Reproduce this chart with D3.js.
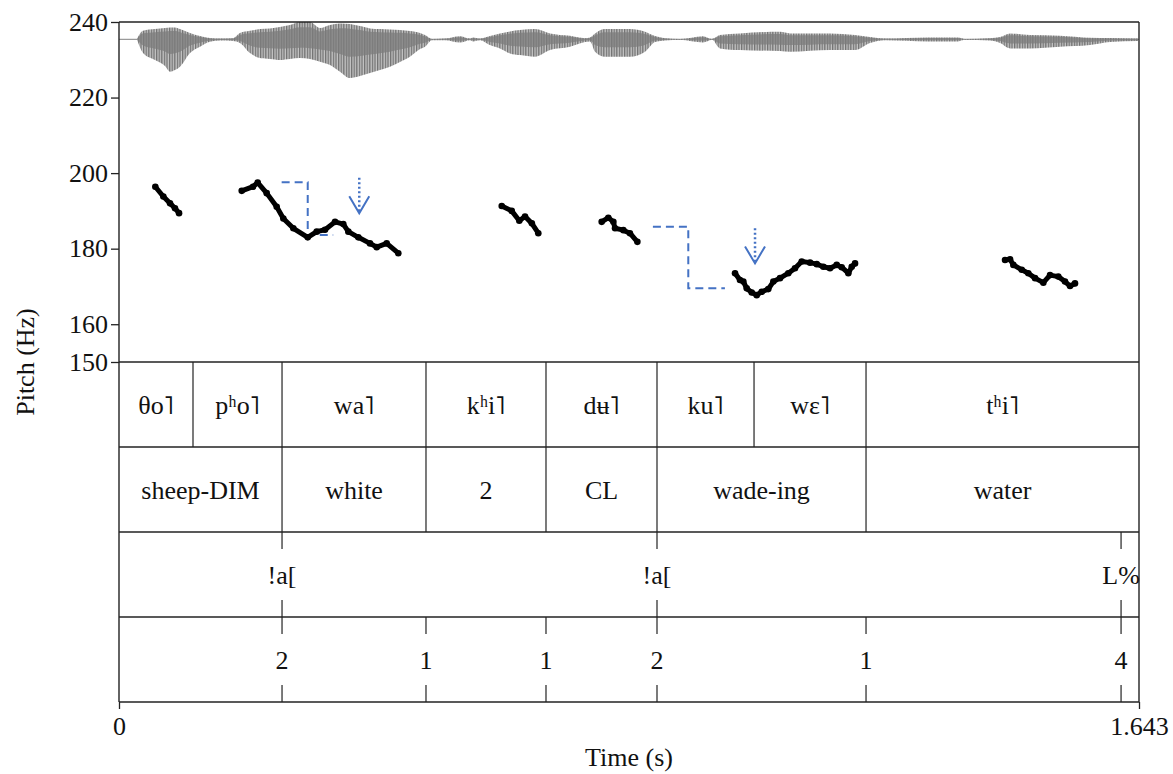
<!DOCTYPE html>
<html>
<head>
<meta charset="utf-8">
<script src="https://cdn.jsdelivr.net/npm/d3@7"></script>
<style>
   body { margin: 0; background: #fff; }
   text { font-family: "Liberation Serif", "DejaVu Serif", serif; fill: #111; }
</style>
</head>
<body>
<svg id="chart" width="1173" height="774"></svg>
<script>
const duration = 1.643
const pitchTicks = [150, 160, 180, 200, 220, 240]
const timeTicks = [0, 1.643]

// pitch track, one array pair per voiced stretch
const pitchTimes = [
   [0.0585, 0.0714, 0.0822, 0.0902, 0.0967],
   [0.1977, 0.2159, 0.2234, 0.2379, 0.254, 0.2647, 0.2808, 0.304, 0.3185, 0.3318, 0.348, 0.3613, 0.3694, 0.3855, 0.4043, 0.4151, 0.4312, 0.4499],
   [0.6165, 0.6326, 0.6448, 0.654, 0.665, 0.6754],
   [0.7775, 0.7882, 0.7963, 0.799, 0.8124, 0.823, 0.835],
   [0.9923, 1.0003, 1.0057, 1.0111, 1.0192, 1.0272, 1.0353, 1.0459, 1.054, 1.0648, 1.0781, 1.0889, 1.0997, 1.1131, 1.1239, 1.1345, 1.1453, 1.1561, 1.1641, 1.1748, 1.1803, 1.1856],
   [1.4272, 1.4353, 1.4406, 1.4541, 1.4647, 1.4755, 1.4889, 1.4997, 1.513, 1.5238, 1.5319, 1.5399]
]
const pitchHz = [
   [196.4, 193.8, 192.0, 190.7, 189.4],
   [195.3, 196.4, 197.5, 194.7, 191.1, 188.0, 185.4, 183.0, 184.5, 185.0, 187.1, 186.5, 184.5, 183.0, 181.4, 180.4, 181.4, 178.8],
   [191.3, 190.0, 187.4, 188.5, 186.7, 184.1],
   [187.1, 188.2, 187.1, 185.4, 184.9, 184.1, 181.8],
   [173.5, 171.7, 171.3, 169.5, 168.4, 167.7, 168.6, 169.3, 171.3, 172.2, 173.5, 174.8, 176.6, 176.3, 175.9, 175.2, 174.8, 175.7, 175.1, 173.5, 175.2, 176.1],
   [177.0, 177.2, 175.7, 174.4, 173.5, 172.2, 171.0, 173.0, 172.6, 171.3, 170.1, 170.8]
]

// dashed downstep targets
const stepTimes = [
   [0.262, 0.304, 0.304, 0.345],
   [0.860, 0.917, 0.917, 0.976]
]
const stepHz = [
   [197.6, 197.6, 183.6, 183.6],
   [185.8, 185.8, 169.5, 169.5]
]

// dotted arrows
const arrowTimes = [0.387, 1.0245]
const arrowFromHz = [198.8, 185.4]
const arrowToHz = [189.4, 176.1]

// waveform envelope (relative amplitude)
const waveTimes = [0.029, 0.0387, 0.058, 0.0741, 0.0822, 0.0902, 0.0983, 0.1144, 0.1305, 0.1466, 0.1627, 0.1836,
   0.1949, 0.211, 0.2271, 0.2432, 0.2593, 0.2754, 0.2916, 0.3077, 0.3238, 0.3399, 0.356, 0.3721, 0.3882, 0.4043, 0.4204, 0.4365, 0.4526, 0.4687, 0.4849, 0.4929, 0.5042,
   0.5251, 0.5493, 0.5654, 0.5702, 0.5815,
   0.5976, 0.6137, 0.6298, 0.6459, 0.6701, 0.6943, 0.7265, 0.7506,
   0.7587, 0.7668, 0.7829, 0.807, 0.8231, 0.8473, 0.8634, 0.8795,
   0.9037, 0.9407, 0.9552,
   0.968, 1.0003, 1.0648, 1.0809, 1.1453, 1.1856, 1.2097, 1.2339,
   1.3032, 1.3515, 1.3628,
   1.403, 1.4191, 1.4353, 1.4675, 1.5158, 1.5641, 1.5963, 1.6414]
const waveUpper = [0.01, 0.215, 0.258, 0.283, 0.295, 0.3, 0.258, 0.158, 0.083, 0.033, 0.02, 0.03,
   0.158, 0.215, 0.258, 0.275, 0.308, 0.358, 0.433, 0.433, 0.283, 0.358, 0.4, 0.383, 0.333, 0.275, 0.258, 0.245, 0.233, 0.208, 0.158, 0.108, 0.01,
   0.02, 0.08, 0.02, 0.05, 0.02,
   0.083, 0.15, 0.2, 0.233, 0.258, 0.15, 0.09, 0.03,
   0.05, 0.15, 0.258, 0.258, 0.258, 0.19, 0.083, 0.03,
   0.01, 0.08, 0.01,
   0.108, 0.15, 0.19, 0.15, 0.15, 0.108, 0.058, 0.02,
   0.05, 0.05, 0.01,
   0.03, 0.058, 0.15, 0.108, 0.09, 0.04, 0.033, 0.02]
const waveLower = [-0.01, -0.343, -0.518, -0.668, -0.81, -0.768, -0.685, -0.343, -0.185, -0.06, -0.03, -0.04,
   -0.093, -0.343, -0.468, -0.493, -0.518, -0.493, -0.468, -0.493, -0.56, -0.643, -0.81, -0.968, -0.918, -0.843, -0.768, -0.685, -0.568, -0.435, -0.243, -0.185, -0.02,
   -0.02, -0.08, -0.02, -0.05, -0.02,
   -0.143, -0.225, -0.35, -0.393, -0.435, -0.268, -0.185, -0.068,
   -0.05, -0.31, -0.435, -0.435, -0.435, -0.31, -0.068, -0.03,
   -0.01, -0.08, -0.01,
   -0.225, -0.268, -0.293, -0.31, -0.268, -0.268, -0.093, -0.02,
   -0.05, -0.05, -0.01,
   -0.03, -0.093, -0.225, -0.225, -0.185, -0.143, -0.068, -0.043]

// text grid
const syllableBounds = [0, 0.1192, 0.2626, 0.4945, 0.6878, 0.8666, 1.0229, 1.2033, 1.643]
const syllableLabels = ["θo˥", "pʰo˥", "wa˥", "kʰi˥", "dʉ˥", "ku˥", "wɛ˥", "tʰi˥"]
const wordBounds = [0, 0.2626, 0.4945, 0.6878, 0.8666, 1.2033, 1.643]
const wordLabels = ["sheep-DIM", "white", "2", "CL", "wade-ing", "water"]
const toneTimes = [0.2626, 0.8666, 1.6141]
const toneLabels = ["!a[", "!a[", "L%"]
const breakTimes = [0.2626, 0.4945, 0.6878, 0.8666, 1.2033, 1.6141]
const breakLabels = ["2", "1", "1", "2", "1", "4"]

const plotL = 119, plotR = 1139, plotT = 22, pitchB = 362, tierH = 85
const plotB = pitchB + tierH * 4
const fontSize = 26
const ink = "#222"
const blue = "#4472c4"

const svg = d3.select("#chart")
const x = d3.scaleLinear().domain([0, duration]).range([plotL, plotR])
const y = d3.scaleLinear().domain([150, 240]).range([pitchB, plotT])
const waveMid = y(235.4)
const yWave = d3.scaleLinear().domain([-1, 1]).range([waveMid + 40, waveMid - 40])

// waveform
const defs = svg.append("defs")
const pat = defs.append("pattern").attr("id", "stripes")
   .attr("width", 2.6).attr("height", 10).attr("patternUnits", "userSpaceOnUse")
pat.append("rect").attr("width", 2.6).attr("height", 10).attr("fill", "#c4c4c4")
pat.append("rect").attr("width", 1.3).attr("height", 10).attr("fill", "#727272")
defs.append("clipPath").attr("id", "plotClip").append("rect")
   .attr("x", plotL).attr("y", plotT - 1).attr("width", plotR - plotL).attr("height", pitchB - plotT)

const waveData = waveTimes.map((t, i) => ({ t, up: waveUpper[i], lo: waveLower[i] }))
const waveG = svg.append("g").attr("clip-path", "url(#plotClip)")
waveG.append("line")
   .attr("x1", x(0)).attr("x2", x(duration))
   .attr("y1", yWave(0)).attr("y2", yWave(0))
   .attr("stroke", "#9a9a9a").attr("stroke-width", 1.2)
waveG.append("path")
   .datum(waveData)
   .attr("d", d3.area().x(d => x(d.t)).y0(d => yWave(d.lo)).y1(d => yWave(d.up)).curve(d3.curveMonotoneX))
   .attr("fill", "url(#stripes)")
// denser core around the zero line
waveG.append("path")
   .datum(waveData)
   .attr("d", d3.area().x(d => x(d.t)).y0(d => yWave(d.lo * 0.45)).y1(d => yWave(d.up * 0.7)).curve(d3.curveMonotoneX))
   .attr("fill", "#7c7c7c").attr("opacity", 0.75)

// dashed steps
const stepLine = d3.line().x(d => x(d[0])).y(d => y(d[1]))
stepTimes.forEach((ts, i) => {
   svg.append("path")
      .attr("d", stepLine(ts.map((t, j) => [t, stepHz[i][j]])))
      .attr("fill", "none").attr("stroke", blue).attr("stroke-width", 2)
      .attr("stroke-dasharray", "8,5")
})

// arrows
arrowTimes.forEach((t, i) => {
   const ax = x(t), y0 = y(arrowFromHz[i]), y1 = y(arrowToHz[i])
   svg.append("line")
      .attr("x1", ax).attr("x2", ax).attr("y1", y0).attr("y2", y1 - 2)
      .attr("stroke", blue).attr("stroke-width", 2.5).attr("stroke-dasharray", "2,2.5")
   svg.append("path")
      .attr("d", `M${ax - 10},${y1 - 17}L${ax},${y1}L${ax + 10},${y1 - 17}`)
      .attr("fill", "none").attr("stroke", blue).attr("stroke-width", 2)
})

// pitch
const pitchLine = d3.line().x(d => x(d[0])).y(d => y(d[1]))
pitchTimes.forEach((ts, i) => {
   const pts = ts.map((t, j) => [t, pitchHz[i][j]])
   svg.append("path")
      .attr("d", pitchLine(pts))
      .attr("fill", "none").attr("stroke", "#000").attr("stroke-width", 5)
      .attr("stroke-linejoin", "round").attr("stroke-linecap", "round")
   svg.append("g").selectAll("circle").data(pts).join("circle")
      .attr("cx", d => x(d[0])).attr("cy", d => y(d[1])).attr("r", 3.3).attr("fill", "#000")
})

// frame and tier lines
const frame = svg.append("g").attr("stroke", ink).attr("stroke-width", 1.4)
frame.append("line").attr("x1", plotL).attr("x2", plotR).attr("y1", plotT).attr("y2", plotT)
frame.append("line").attr("x1", plotL).attr("x2", plotL).attr("y1", plotT).attr("y2", plotB)
frame.append("line").attr("x1", plotR).attr("x2", plotR).attr("y1", plotT).attr("y2", plotB)
d3.range(5).forEach(k => {
   const ty = pitchB + k * tierH
   frame.append("line").attr("x1", plotL).attr("x2", plotR).attr("y1", ty).attr("y2", ty)
})

const intervalTier = (bounds, labels, row) => {
   const ty = pitchB + row * tierH
   const g = svg.append("g")
   g.selectAll("line").data(bounds.slice(1, -1)).join("line")
      .attr("x1", d => x(d)).attr("x2", d => x(d))
      .attr("y1", ty).attr("y2", ty + tierH)
      .attr("stroke", ink).attr("stroke-width", 1.2)
   g.selectAll("text").data(labels).join("text")
      .attr("x", (d, i) => (x(bounds[i]) + x(bounds[i + 1])) / 2)
      .attr("y", ty + tierH / 2).attr("dy", "0.35em")
      .attr("text-anchor", "middle").attr("font-size", fontSize)
      .text(d => d)
}

const pointTier = (times, labels, row) => {
   const ty = pitchB + row * tierH
   const g = svg.append("g")
   times.forEach((t, i) => {
      g.append("line").attr("x1", x(t)).attr("x2", x(t)).attr("y1", ty).attr("y2", ty + 17)
         .attr("stroke", ink).attr("stroke-width", 1.2)
      g.append("line").attr("x1", x(t)).attr("x2", x(t)).attr("y1", ty + tierH - 17).attr("y2", ty + tierH)
         .attr("stroke", ink).attr("stroke-width", 1.2)
      g.append("text").attr("x", x(t)).attr("y", ty + tierH / 2).attr("dy", "0.35em")
         .attr("text-anchor", "middle").attr("font-size", fontSize)
         .text(labels[i])
   })
}

intervalTier(syllableBounds, syllableLabels, 0)
intervalTier(wordBounds, wordLabels, 1)
pointTier(toneTimes, toneLabels, 2)
pointTier(breakTimes, breakLabels, 3)

// axes
const yAxis = svg.append("g").attr("transform", `translate(${plotL},0)`)
   .call(d3.axisLeft(y).tickValues(pitchTicks).tickSize(8).tickPadding(3).tickFormat(d3.format("d")))
yAxis.select(".domain").remove()
yAxis.selectAll("line").attr("stroke", ink).attr("stroke-width", 1.3)
yAxis.selectAll("text").attr("font-size", fontSize).attr("font-family", "Liberation Serif").attr("fill", "#111")

const xAxis = svg.append("g").attr("transform", `translate(0,${plotB})`)
   .call(d3.axisBottom(x).tickValues(timeTicks).tickSize(7).tickPadding(8).tickFormat(d => d === 0 ? "0" : d3.format(".3f")(d)))
xAxis.select(".domain").remove()
xAxis.selectAll("line").attr("stroke", ink).attr("stroke-width", 1.3)
xAxis.selectAll("text").attr("font-size", fontSize).attr("font-family", "Liberation Serif").attr("fill", "#111")

svg.append("text")
   .attr("x", (plotL + plotR) / 2).attr("y", 766)
   .attr("text-anchor", "middle").attr("font-size", fontSize)
   .text("Time (s)")

svg.append("text")
   .attr("transform", `translate(34,${pitchB}) rotate(-90)`)
   .attr("text-anchor", "middle").attr("font-size", fontSize)
   .text("Pitch (Hz)")
</script>
</body>
</html>
